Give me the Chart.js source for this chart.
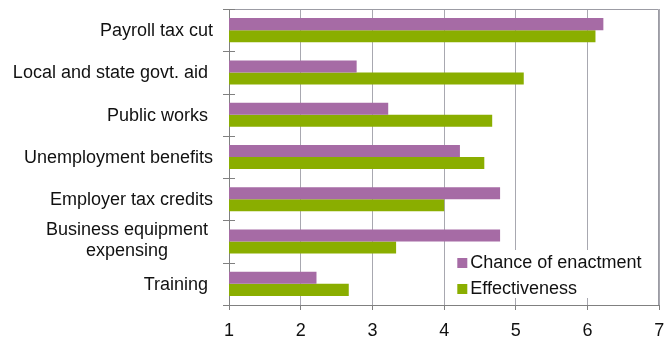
<!DOCTYPE html>
<html>
<head>
<meta charset="utf-8">
<script src="https://cdn.jsdelivr.net/npm/chart.js@4.4.1/dist/chart.umd.min.js"></script>
<style>
  html, body { margin: 0; padding: 0; background: #fff; }
</style>
</head>
<body>
<canvas id="policyChart" width="664" height="339"></canvas>
<script>
// policy options, top to bottom (trailing spaces kept as in the source sheet)
const categories = [
  'Payroll tax cut',
  'Local and state govt. aid ',
  'Public works ',
  'Unemployment benefits',
  'Employer tax credits',
  ['Business equipment ', 'expensing'],
  'Training '
];
const seriesNames = ['Chance of enactment', 'Effectiveness'];
const enactment = [6.22, 2.78, 3.22, 4.22, 4.78, 4.78, 2.22];
const effectiveness = [6.11, 5.11, 4.67, 4.56, 4.00, 3.33, 2.67];
const xTicks = [1, 2, 3, 4, 5, 6, 7];

const PURPLE = '#A66BA5';
const GREEN = '#8AAE00';
const AXIS = '#808080';
const GRID = '#A8A8B0';
const FONT = '"Liberation Sans", Arial, sans-serif';
const TEXT = '#111111';

// category labels: right aligned, wrapped labels centred on each other
const categoryLabels = {
  id: 'categoryLabels',
  afterDraw(chart) {
    const ctx = chart.ctx;
    const y = chart.scales.y;
    const right = y.right - 16;
    ctx.save();
    ctx.font = '18px ' + FONT;
    ctx.fillStyle = TEXT;
    ctx.textBaseline = 'middle';
    chart.data.labels.forEach((lab, i) => {
      const cy = y.getPixelForValue(i) + 1;
      if (Array.isArray(lab)) {
        const lh = 20.5;
        const widths = lab.map(s => ctx.measureText(s.trimEnd()).width);
        const pad = ctx.measureText(lab[0]).width - widths[0];
        const mid = right - pad - Math.max(...widths) / 2;
        ctx.textAlign = 'center';
        lab.forEach((s, k) => {
          ctx.fillText(s.trim(), mid, cy - 2 + (k - (lab.length - 1) / 2) * lh);
        });
      } else {
        ctx.textAlign = 'right';
        ctx.fillText(lab, right, cy);
      }
    });
    // cross tick marks at category boundaries
    ctx.strokeStyle = AXIS;
    ctx.lineWidth = 1;
    for (let i = 0; i <= chart.data.labels.length; i++) {
      const ty = Math.round(y.getPixelForValue(i - 0.5)) + 0.5;
      ctx.beginPath();
      ctx.moveTo(y.right - 6, ty);
      ctx.lineTo(y.right + 6, ty);
      ctx.stroke();
    }
    ctx.restore();
  }
};

// frame on top and right of the plot
const plotFrame = {
  id: 'plotFrame',
  beforeDatasetsDraw(chart) {
    const {ctx, chartArea: a} = chart;
    ctx.save();
    ctx.strokeStyle = '#9C9CA4';
    ctx.lineWidth = 1;
    ctx.beginPath();
    ctx.moveTo(a.left, Math.round(a.top) + 0.5);
    ctx.lineTo(Math.round(a.right) - 0.5, Math.round(a.top) + 0.5);
    ctx.lineTo(Math.round(a.right) - 0.5, a.bottom);
    ctx.stroke();
    ctx.restore();
  }
};

// legend boxed inside the lower right corner of the plot
const insideLegend = {
  id: 'insideLegend',
  afterDatasetsDraw(chart) {
    const {ctx, chartArea: a} = chart;
    const x0 = a.right - 205;
    const y0 = a.bottom - 55;
    ctx.save();
    ctx.fillStyle = '#ffffff';
    ctx.fillRect(x0, y0, 196, 48);
    ctx.font = '18px ' + FONT;
    ctx.textBaseline = 'middle';
    ctx.textAlign = 'left';
    chart.data.datasets.forEach((ds, i) => {
      const cy = y0 + 13 + i * 26;
      ctx.fillStyle = ds.backgroundColor;
      ctx.fillRect(x0 + 3, cy - 5, 10, 10);
      ctx.fillStyle = TEXT;
      ctx.fillText(ds.label, x0 + 16, cy);
    });
    ctx.restore();
  }
};

new Chart(document.getElementById('policyChart'), {
  type: 'bar',
  data: {
    labels: categories,
    datasets: [
      { label: seriesNames[0], data: enactment, backgroundColor: PURPLE },
      { label: seriesNames[1], data: effectiveness, backgroundColor: GREEN }
    ]
  },
  options: {
    indexAxis: 'y',
    responsive: false,
    animation: false,
    layout: { padding: { top: 9, right: 0, left: 0, bottom: 0 } },
    datasets: { bar: { categoryPercentage: 0.57, barPercentage: 1.0 } },
    plugins: {
      legend: { display: false },
      tooltip: { enabled: false },
      title: { display: false }
    },
    scales: {
      x: {
        type: 'linear',
        min: xTicks[0],
        max: xTicks[xTicks.length - 1],
        afterBuildTicks(scale) { scale.ticks = xTicks.map(v => ({ value: v })); },
        afterFit(scale) {
          scale.height = 34;
          scale.paddingLeft = 0;
          scale.paddingRight = 4.7;
        },
        ticks: { color: TEXT, font: { family: FONT, size: 18 }, padding: 10 },
        grid: { color: GRID, tickColor: AXIS, tickLength: 5, lineWidth: 1 },
        border: { color: AXIS, width: 1 }
      },
      y: {
        type: 'category',
        afterFit(scale) { scale.width = 229; },
        ticks: { display: false },
        grid: { display: false },
        border: { color: AXIS, width: 1 }
      }
    }
  },
  plugins: [plotFrame, insideLegend, categoryLabels]
});
</script>
</body>
</html>
